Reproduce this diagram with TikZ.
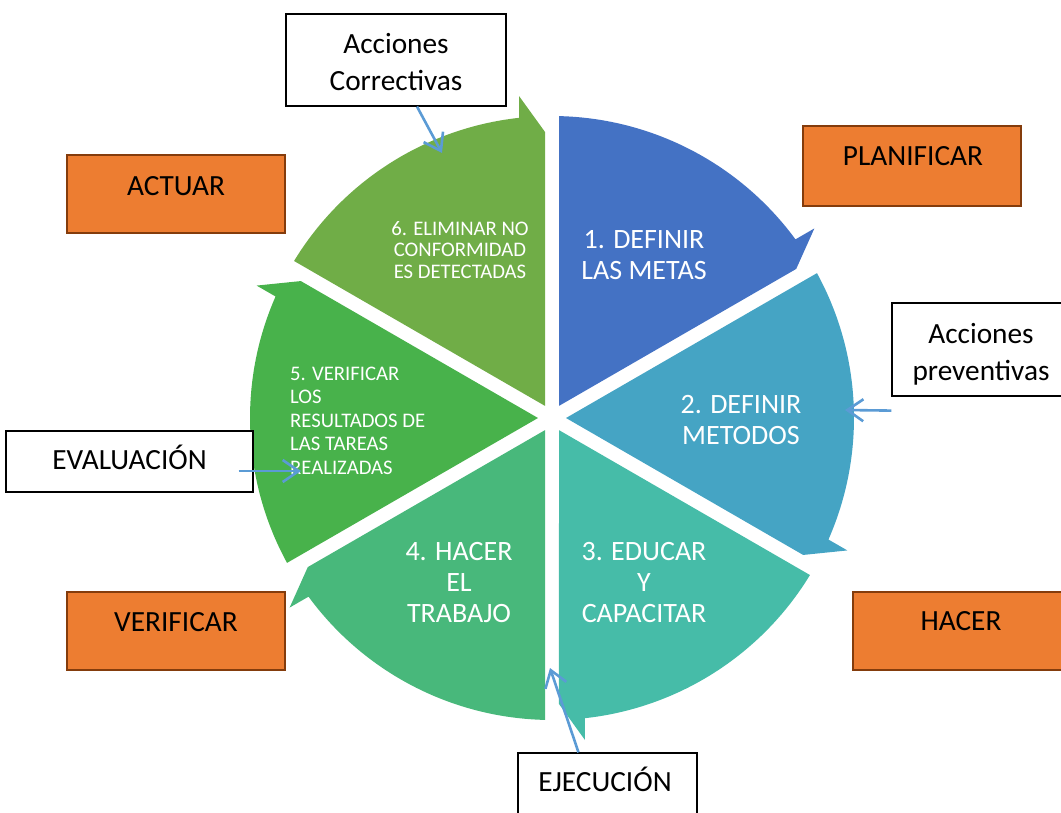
\documentclass[tikz,border=0pt]{standalone}
\usepackage{fontspec}
\setmainfont{Carlito}
\usetikzlibrary{arrows.meta}
\definecolor{sA}{HTML}{4472C4}
\definecolor{sB}{HTML}{45A4C4}
\definecolor{sC}{HTML}{46BCA8}
\definecolor{sD}{HTML}{48B87B}
\definecolor{sE}{HTML}{48B24B}
\definecolor{sF}{HTML}{70AD47}
\definecolor{orng}{HTML}{ED7D31}
\definecolor{obrd}{HTML}{843C0C}
\definecolor{lblue}{HTML}{5B9BD5}
\begin{document}
\begin{tikzpicture}[x=1pt,y=-1pt,
  wbox/.style={draw=black,line width=1.2pt,fill=white,inner sep=0pt},
  obox/.style={draw=obrd,line width=2.6pt,fill=orng,inner sep=0pt},
  btxt/.style={font=\fontsize{29.3pt}{37pt}\selectfont,align=center,inner sep=0pt},
  stxt/.style={text=white,inner sep=0pt,align=center,font=\fontsize{28pt}{31pt}\selectfont},
  smtxt/.style={text=white,inner sep=0pt,font=\fontsize{20.7pt}{21.8pt}\selectfont},
  conn/.style={draw=lblue,line width=2.6pt,-{Straight Barb[length=16pt,width=22pt]}}
]
\useasboundingbox (0,0) rectangle (1061,812);
% sectors
\begin{scope}[shift={(552,418)}]
\foreach \k/\c in {0/sA,1/sB,2/sC,3/sD,4/sE,5/sF}{
  \pgfmathsetmacro\s{90-60*\k}
  \pgfmathsetmacro\e{\s-60}
  \fill[\c] ({\s-30}:14pt) -- ({\s-1.33}:302pt)
    arc[start angle={\s-1.33}, end angle={\e+6.27}, radius=302pt]
    -- ({\e+5.85}:323.7pt) -- ({\e+1.4}:286.1pt) -- cycle;
}
\end{scope}
% sector texts
\node[stxt] (t1) at (644,255.5) {1. DEFINIR\\LAS METAS};
\node[stxt] (t2) at (741,420.5) {2. DEFINIR\\METODOS};
\node[stxt] (t3) at (644,583) {3. EDUCAR\\Y\\CAPACITAR};
\node[stxt] (t4) at (459,583) {4. HACER\\EL\\TRABAJO};
\node[smtxt,align=left,anchor=north west,font=\fontsize{20.7pt}{23.5pt}\selectfont] (t5) at (290,366.5) {5. VERIFICAR\\LOS\\RESULTADOS DE\\LAS TAREAS\\REALIZADAS};
\node[smtxt,align=center] (t6) at (460,250) {6. ELIMINAR NO\\CONFORMIDAD\\ES DETECTADAS};
% white boxes
\node[wbox,minimum width=220pt,minimum height=92pt] (corr) at (396,60) {};
\node[btxt] (corrT) at (396,62) {Acciones\\Correctivas};
\node[wbox,minimum width=178pt,minimum height=93pt] (prev) at (981,349.5) {};
\node[btxt] (prevT) at (981,354) {Acciones\\preventivas};
\node[wbox,minimum width=247pt,minimum height=61pt] (eval) at (129.5,461.5) {};
\node[btxt,anchor=base] (evalT) at (129.5,469) {EVALUACIÓN};
\node[wbox,minimum width=179pt,minimum height=62pt] (ejec) at (607.5,784) {};
\node[btxt,anchor=base] (ejecT) at (605,791) {EJECUCIÓN};
% orange boxes
\node[obox,minimum width=218pt,minimum height=80pt] (plan) at (912,166) {};
\node[btxt,anchor=base] (planT) at (913,165) {PLANIFICAR};
\node[obox,minimum width=218pt,minimum height=78pt] (actu) at (176,194) {};
\node[btxt,anchor=base] (actuT) at (176,195) {ACTUAR};
\node[obox,minimum width=218pt,minimum height=78pt] (veri) at (176,631) {};
\node[btxt,anchor=base] (veriT) at (176,631) {VERIFICAR};
\node[obox,minimum width=218pt,minimum height=78pt] (hace) at (962,631) {};
\node[btxt,anchor=base] (haceT) at (961,630) {HACER};
% arrows
\coordinate (corrTip) at (442,153);
\coordinate (prevTip) at (845,410);
\coordinate (evalTip) at (301,471);
\coordinate (ejecTip) at (550,668);
\draw[conn] ([xshift=21pt]corr.south) -- (corrTip);
\draw[conn] ([yshift=-14pt]prev.south west) -- (prevTip);
\draw[conn] ([xshift=-15pt,yshift=-9.5pt]eval.east) -- (evalTip);
\draw[conn] ([xshift=-29pt]ejec.north) -- (ejecTip);
\end{tikzpicture}
\end{document}
